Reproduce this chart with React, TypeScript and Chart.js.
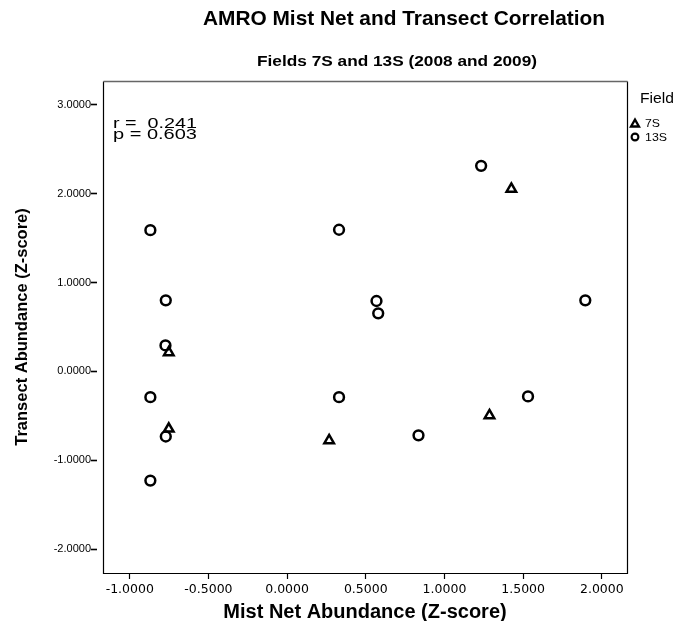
import React, { useEffect, useRef } from 'react';
import { Chart, registerables } from 'chart.js';

Chart.register(...registerables);

const chartTitle = 'AMRO Mist Net and Transect Correlation';
const chartSubtitle = 'Fields 7S and 13S (2008 and 2009)';
const xAxisTitle = 'Mist Net Abundance (Z-score)';
const yAxisTitle = 'Transect Abundance (Z-score)';
const legendTitle = 'Field';
const fieldLabels = ['7S', '13S'];
const statLines = ['r =  0.241', 'p = 0.603'];

// Field 7S (triangles)
const mistNet7S = [1.425, -0.752, -0.752, 0.267, 1.286];
const transect7S = [2.055, 0.214, -0.647, -0.778, -0.496];

// Field 13S (circles)
const mistNet13S = [1.233, -0.869, 0.33, -0.771, 0.568, 0.579, 1.895, -0.773, -0.869, 0.33, 1.531, -0.771, 0.835, -0.869];
const transect13S = [2.315, 1.59, 1.595, 0.8, 0.793, 0.654, 0.8, 0.293, -0.29, -0.29, -0.282, -0.733, -0.72, -1.229];

const xTicks = [-1, -0.5, 0, 0.5, 1, 1.5, 2];
const yTicks = [-2, -1, 0, 1, 2, 3];
const xRange = [-1.17, 2.16];
const yRange = [-2.27, 3.27];

const FONT = '"Liberation Sans", Arial, sans-serif';

function drawFit(ctx: CanvasRenderingContext2D, text: string, x: number, y: number, font: string, width: number, align: CanvasTextAlign) {
  ctx.save();
  ctx.font = font;
  const w = ctx.measureText(text).width;
  const s = w > 0 ? width / w : 1;
  ctx.translate(x, y);
  ctx.scale(s, 1);
  ctx.textAlign = align;
  ctx.textBaseline = 'alphabetic';
  ctx.fillStyle = '#000';
  ctx.fillText(text, 0, 0);
  ctx.restore();
}

const overlayPlugin = {
  id: 'overlay',
  afterDraw(chart: any) {
    const ctx: CanvasRenderingContext2D = chart.ctx;
    const a = chart.chartArea;
    const L = Math.round(a.left) + 0.5;
    const R = Math.round(a.right) + 0.5;
    const T = Math.round(a.top) + 0.5;
    const B = Math.round(a.bottom) + 0.5;
    ctx.save();
    ctx.strokeStyle = '#000';
    ctx.lineWidth = 1.2;
    ctx.beginPath();
    ctx.moveTo(L, T);
    ctx.lineTo(L, B);
    ctx.lineTo(R, B);
    ctx.lineTo(R, T);
    ctx.stroke();
    ctx.strokeStyle = '#666';
    ctx.lineWidth = 1.4;
    ctx.beginPath();
    ctx.moveTo(L, T);
    ctx.lineTo(R, T);
    ctx.stroke();
    ctx.restore();

    // titles
    drawFit(ctx, chartTitle, 396, 17, `bold 21px ${FONT}`, 402, 'center');
    drawFit(ctx, chartSubtitle, 389, 58, `bold 15px ${FONT}`, 280, 'center');

    // stats annotation
    drawFit(ctx, statLines[0], 105, 119.5, `14px ${FONT}`, 84, 'left');
    drawFit(ctx, statLines[1], 105, 131, `14px ${FONT}`, 84, 'left');

    // legend
    drawFit(ctx, legendTitle, 632, 94.7, `14px ${FONT}`, 34, 'left');
    drawFit(ctx, fieldLabels[0], 637, 119, `11px ${FONT}`, 15, 'left');
    drawFit(ctx, fieldLabels[1], 637, 132.5, `11px ${FONT}`, 22, 'left');

    ctx.save();
    ctx.strokeStyle = '#000';
    ctx.lineWidth = 2.3;
    ctx.lineJoin = 'miter';
    const tx = 627, ty = 116.2, tr = 4.6;
    const s120 = Math.sin((2 * Math.PI) / 3);
    ctx.beginPath();
    ctx.moveTo(tx, ty - tr);
    ctx.lineTo(tx + tr * s120, ty + tr / 2);
    ctx.lineTo(tx - tr * s120, ty + tr / 2);
    ctx.closePath();
    ctx.stroke();
    ctx.lineWidth = 2.1;
    ctx.beginPath();
    ctx.arc(627, 129, 3.4, 0, Math.PI * 2);
    ctx.stroke();
    ctx.restore();
  },
};

export default function App() {
  const canvasRef = useRef<HTMLCanvasElement | null>(null);

  useEffect(() => {
    const canvas = canvasRef.current;
    if (!canvas) return;

    const data7S = mistNet7S.map((x, i) => ({ x, y: transect7S[i] }));
    const data13S = mistNet13S.map((x, i) => ({ x, y: transect13S[i] }));

    const chart = new Chart(canvas, {
      type: 'scatter',
      data: {
        datasets: [
          {
            label: fieldLabels[0],
            data: data7S,
            pointStyle: 'triangle',
            pointRadius: 5.5,
            pointHoverRadius: 5.5,
            pointBorderWidth: 2.5,
            borderColor: '#000',
            backgroundColor: 'rgba(0,0,0,0)',
          },
          {
            label: fieldLabels[1],
            data: data13S,
            pointStyle: 'circle',
            pointRadius: 4.9,
            pointHoverRadius: 4.9,
            pointBorderWidth: 2.5,
            borderColor: '#000',
            backgroundColor: 'rgba(0,0,0,0)',
          },
        ],
      },
      options: {
        animation: false,
        responsive: true,
        maintainAspectRatio: false,
        layout: { padding: { top: 73, right: 46, left: 0, bottom: 0 } },
        plugins: {
          legend: { display: false },
          tooltip: { enabled: false },
          title: { display: false },
        },
        scales: {
          x: {
            type: 'linear',
            min: xRange[0],
            max: xRange[1],
            afterBuildTicks: (scale: any) => {
              scale.ticks = xTicks.map((v) => ({ value: v }));
            },
            afterFit: (scale: any) => {
              scale.height = 48;
            },
            border: { display: false },
            grid: {
              drawOnChartArea: false,
              drawTicks: true,
              tickLength: 6,
              tickColor: '#000',
              tickWidth: 1.2,
            },
            ticks: {
              padding: 3,
              color: '#000',
              font: { family: '"DejaVu Sans", sans-serif', size: 12.5 },
              callback: (v: any) => Number(v).toFixed(4),
              maxRotation: 0,
              autoSkip: false,
            },
            title: {
              display: true,
              text: xAxisTitle,
              color: '#000',
              font: { family: FONT, size: 20, weight: 'bold', lineHeight: 1 },
              padding: { top: 0, bottom: -1 },
            },
          },
          y: {
            type: 'linear',
            min: yRange[0],
            max: yRange[1],
            afterBuildTicks: (scale: any) => {
              scale.ticks = yTicks.map((v) => ({ value: v }));
            },
            afterFit: (scale: any) => {
              scale.width = 95;
            },
            border: { display: false },
            grid: {
              drawOnChartArea: false,
              drawTicks: true,
              tickLength: 12,
              tickColor: '#000',
              tickWidth: 1.6,
              tickBorderDash: [6, 6],
            },
            ticks: {
              padding: 0,
              color: '#000',
              font: { family: FONT, size: 11 },
              callback: (v: any) => Number(v).toFixed(4),
              autoSkip: false,
            },
            title: {
              display: true,
              text: yAxisTitle,
              color: '#000',
              font: { family: FONT, size: 16.5, weight: 'bold' },
              padding: { top: 5, bottom: 0 },
            },
          },
        },
      },
      plugins: [overlayPlugin],
    });

    return () => {
      chart.destroy();
    };
  }, []);

  return (
    <div style={{ width: 665, height: 613, position: 'relative' }}>
      <canvas ref={canvasRef} />
    </div>
  );
}
